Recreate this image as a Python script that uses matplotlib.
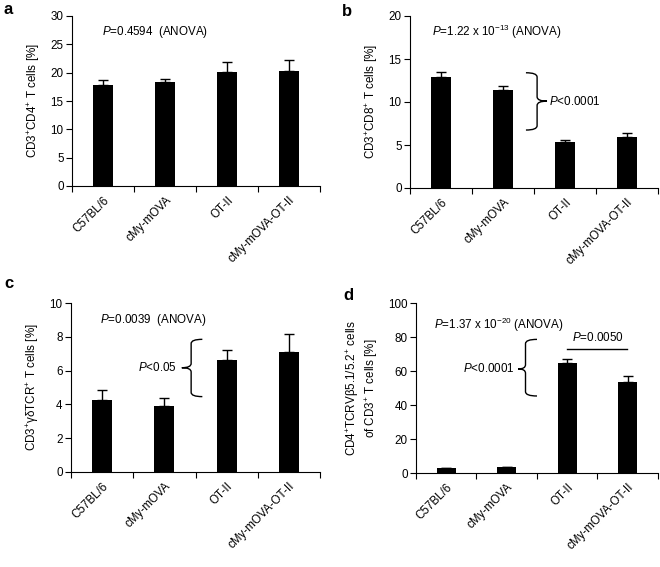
import numpy as np
import matplotlib
matplotlib.use('Agg')
import matplotlib.pyplot as plt
from matplotlib.path import Path
from matplotlib.patches import PathPatch

plt.rcParams['font.family'] = ['Liberation Sans', 'DejaVu Sans']
plt.rcParams['mathtext.fontset'] = 'custom'
plt.rcParams['mathtext.rm'] = 'Liberation Sans'
plt.rcParams['mathtext.it'] = 'Liberation Sans:italic'
plt.rcParams['font.size'] = 8.4

groups = ['C57BL/6', 'cMy-mOVA', 'OT-II', 'cMy-mOVA-OT-II']

cd4_mean = [17.8, 18.4, 20.1, 20.3]
cd4_err = [0.9, 0.4, 1.7, 1.9]
cd8_mean = [12.9, 11.4, 5.3, 5.9]
cd8_err = [0.6, 0.5, 0.3, 0.5]
gd_mean = [4.25, 3.9, 6.65, 7.1]
gd_err = [0.6, 0.5, 0.55, 1.05]
vb_mean = [2.8, 3.4, 64.5, 53.8]
vb_err = [0.4, 0.4, 2.8, 3.3]

W, H = 660, 567
fig = plt.figure(figsize=(W / 100, H / 100), dpi=100)


def rect(l, r, t, b):
    return [l / W, 1 - b / H, (r - l) / W, (b - t) / H]


def bar_panel(box, mean, err, ymax, step, ylabel, letter, lx, ly):
    ax = fig.add_axes(rect(*box))
    x = np.arange(len(groups))
    ax.bar(x, mean, width=0.32, color='black', zorder=2)
    ax.errorbar(x, mean, yerr=[np.zeros(len(err)), err], fmt='none',
                ecolor='black', elinewidth=1, capsize=3.6, capthick=1, zorder=1)
    ax.set_xlim(-0.5, 3.5)
    ax.set_ylim(0, ymax)
    ax.set_yticks(np.arange(0, ymax + step / 2, step))
    ax.set_xticks(np.arange(-0.5, 4), labels=[])
    ax.set_xticks(x, labels=groups, minor=True, rotation=45, ha='right',
                  rotation_mode='anchor')
    ax.tick_params(axis='x', which='minor', length=0, pad=6)
    ax.tick_params(axis='x', which='major', length=4, direction='out')
    ax.tick_params(axis='y', length=4, direction='out', pad=2)
    ax.spines[['top', 'right']].set_visible(False)
    ax.set_ylabel(ylabel, labelpad=6)
    fig.text(lx / W, 1 - ly / H, letter, fontsize=12, fontweight='bold',
             va='center', ha='left')
    return ax


def brace(ax, x, y0, y1, ym, w, tip, h, d):
    # '}' when d=1, '{' when d=-1
    verts = [(x - d * w, y1), (x, y1), (x, y1 - h), (x, ym + h), (x, ym),
             (x + d * tip, ym), (x, ym), (x, ym - h), (x, y0 + h), (x, y0),
             (x - d * w, y0)]
    codes = [Path.MOVETO, Path.CURVE3, Path.CURVE3, Path.LINETO, Path.CURVE3,
             Path.CURVE3, Path.CURVE3, Path.CURVE3, Path.LINETO, Path.CURVE3,
             Path.CURVE3]
    ax.add_patch(PathPatch(Path(verts, codes), fill=False, lw=1,
                           edgecolor='black', clip_on=False))


# a
ax = bar_panel((72, 320, 16, 186), cd4_mean, cd4_err, 30, 5,
               r'CD3$^{+}$CD4$^{+}$ T cells [%]', 'a', 4, 10)
ax.text(-0.02, 27.2, r'$P$=0.4594  (ANOVA)', ha='left', va='center')

# b
ax = bar_panel((410, 658, 16, 188), cd8_mean, cd8_err, 20, 5,
               r'CD3$^{+}$CD8$^{+}$ T cells [%]', 'b', 342, 12)
ax.text(-0.15, 18.1, r'$P$=1.22 x 10$^{-13}$ (ANOVA)', ha='left', va='center')
brace(ax, 1.55, 6.74, 13.4, 10.1, 0.18, 0.16, 0.5, 1)
ax.text(1.74, 10.1, r'$P$<0.0001', ha='left', va='center')

# c
ax = bar_panel((71, 320, 303, 472), gd_mean, gd_err, 10, 2,
               r'CD3$^{+}$γδTCR$^{+}$ T cells [%]', 'c', 4, 283)
ax.text(-0.03, 9.0, r'$P$=0.0039  (ANOVA)', ha='left', va='center')
brace(ax, 1.43, 4.46, 7.85, 6.17, 0.18, 0.15, 0.25, -1)
ax.text(1.2, 6.17, r'$P$<0.05', ha='right', va='center')

# d
ax = bar_panel((416, 658, 303, 473), vb_mean, vb_err, 100, 20,
               'CD4$^{+}$TCRVβ5.1/5.2$^{+}$ cells\nof CD3$^{+}$ T cells [%]',
               'd', 343, 295)
ax.text(-0.21, 87, r'$P$=1.37 x 10$^{-20}$ (ANOVA)', ha='left', va='center')
brace(ax, 1.31, 45.3, 78.6, 61.2, 0.19, 0.12, 2.5, -1)
ax.text(1.125, 61.2, r'$P$<0.0001', ha='right', va='center')
ax.plot([2, 2.98], [72.8, 72.8], color='black', lw=1)
ax.text(2.5, 79.8, r'$P$=0.0050', ha='center', va='center')

fig.savefig('out.png', dpi=100)
